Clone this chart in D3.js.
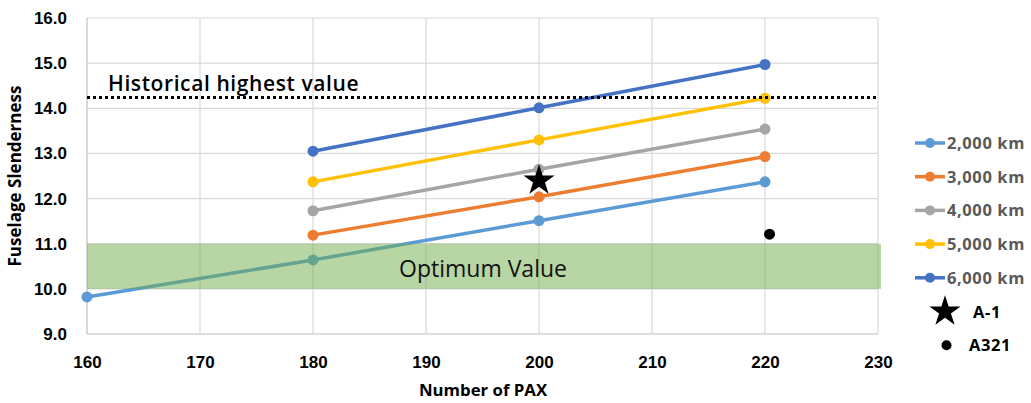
<!DOCTYPE html>
<html>
<head>
<meta charset="utf-8">
<script src="https://cdn.jsdelivr.net/npm/d3@7"></script>
<style>
  html, body { margin: 0; padding: 0; background: #fff; }
  svg { display: block; font-family: "Open Sans", "DejaVu Sans", sans-serif; }
</style>
</head>
<body>
<svg id="chart" width="1031" height="403"></svg>
<script>
// Passenger counts on the x axis
const pax = [160, 180, 200, 220];
const xTicks = [160, 170, 180, 190, 200, 210, 220, 230];
const yTicks = [9, 10, 11, 12, 13, 14, 15, 16];

// Fuselage slenderness per design range
const seriesNames = ["2,000 km", "3,000 km", "4,000 km", "5,000 km", "6,000 km"];
const series2000 = [9.82, 10.64, 11.51, 12.37];
const series3000 = [null, 11.19, 12.04, 12.93];
const series4000 = [null, 11.73, 12.65, 13.54];
const series5000 = [null, 12.37, 13.30, 14.22];
const series6000 = [null, 13.05, 14.01, 14.97];
const seriesColors = ["#5B9BD5", "#ED7D31", "#A5A5A5", "#FFC000", "#4472C4"];

// Reference aircraft
const a1 = { pax: 200, value: 12.40 };
const a321 = { pax: 220.4, value: 11.21 };

// Reference levels
const historicalHighest = 14.24;
const optimumRange = [10, 11];

const svg = d3.select("#chart");
const plotLeft = 87, plotRight = 878, plotTop = 18, plotBottom = 334;

const x = d3.scaleLinear().domain([160, 230]).range([plotLeft, plotRight]);
const y = d3.scaleLinear().domain([9, 16]).range([plotBottom, plotTop]);

// Gridlines
const grid = svg.append("g");
grid.selectAll("line.h").data(yTicks).join("line")
  .attr("x1", plotLeft).attr("x2", plotRight)
  .attr("y1", d => y(d)).attr("y2", d => y(d))
  .attr("stroke", d => d === 9 ? "#bfbfbf" : "#d9d9d9").attr("stroke-width", 1.2);
grid.selectAll("line.v").data(xTicks).join("line")
  .attr("y1", plotTop).attr("y2", plotBottom)
  .attr("x1", d => x(d)).attr("x2", d => x(d))
  .attr("stroke", d => d === 160 ? "#bfbfbf" : "#d9d9d9").attr("stroke-width", 1.2);

// Axes
const yAxis = d3.axisLeft(y).tickValues(yTicks).tickFormat(d3.format(".1f")).tickSize(0).tickPadding(20);
svg.append("g").attr("transform", `translate(${plotLeft},0)`).call(yAxis)
  .call(g => g.select(".domain").remove())
  .selectAll("text").attr("font-size", 17).attr("font-weight", "bold").attr("fill", "#000");

const xAxis = d3.axisBottom(x).tickValues(xTicks).tickFormat(d3.format("d")).tickSize(0).tickPadding(22);
svg.append("g").attr("transform", `translate(0,${plotBottom})`).call(xAxis)
  .call(g => g.select(".domain").remove())
  .selectAll("text").attr("font-size", 17).attr("font-weight", "bold").attr("fill", "#000");

svg.append("text")
  .attr("x", 483).attr("y", 396)
  .attr("text-anchor", "middle").attr("font-size", 16.8).attr("font-weight", "bold")
  .text("Number of PAX");

svg.append("text")
  .attr("transform", `translate(21,${(plotTop + plotBottom) / 2}) rotate(-90)`)
  .attr("text-anchor", "middle").attr("font-size", 17).attr("font-weight", "bold")
  .text("Fuselage Slenderness");

// Series lines with markers
const allSeries = [series2000, series3000, series4000, series5000, series6000];
const line = d3.line()
  .defined(d => d.v !== null)
  .x(d => x(d.p)).y(d => y(d.v));

allSeries.forEach((vals, i) => {
  const pts = pax.map((p, j) => ({ p, v: vals[j] }));
  const g = svg.append("g");
  g.append("path").datum(pts)
    .attr("d", line).attr("fill", "none")
    .attr("stroke", seriesColors[i]).attr("stroke-width", 3.5);
  g.selectAll("circle").data(pts.filter(d => d.v !== null)).join("circle")
    .attr("cx", d => x(d.p)).attr("cy", d => y(d.v)).attr("r", 5.5)
    .attr("fill", seriesColors[i]);
});

// Optimum band (translucent, over the lines)
svg.append("rect")
  .attr("x", x(160)).attr("width", x(230) - x(160) + 3)
  .attr("y", y(optimumRange[1])).attr("height", y(optimumRange[0]) - y(optimumRange[1]))
  .attr("fill", "#70AD47").attr("fill-opacity", 0.5);
svg.append("text")
  .attr("x", 483).attr("y", 277)
  .attr("text-anchor", "middle").attr("font-size", 23).attr("fill", "#111")
  .text("Optimum Value");

// Historical highest dotted line
svg.append("line")
  .attr("x1", x(160)).attr("x2", x(230))
  .attr("y1", y(historicalHighest)).attr("y2", y(historicalHighest))
  .attr("stroke", "#000").attr("stroke-width", 3).attr("stroke-dasharray", "3,3");
svg.append("text")
  .attr("x", 108).attr("y", 91)
  .attr("font-size", 21).attr("fill", "#000")
  .attr("font-weight", 600).attr("letter-spacing", 0.6)
  .text("Historical highest value");

// Reference aircraft markers
const star = d3.symbol().type(d3.symbolStar).size(300);
svg.append("path")
  .attr("d", star())
  .attr("transform", `translate(${x(a1.pax)},${y(a1.value)})`)
  .attr("fill", "#000");
svg.append("circle")
  .attr("cx", x(a321.pax)).attr("cy", y(a321.value)).attr("r", 5.5).attr("fill", "#000");

// Legend
const legend = svg.append("g");
const rowY = i => 143 + i * 33.7;
seriesNames.forEach((name, i) => {
  const g = legend.append("g").attr("transform", `translate(0,${rowY(i)})`);
  g.append("line").attr("x1", 915).attr("x2", 945).attr("stroke", seriesColors[i]).attr("stroke-width", 3.5);
  g.append("circle").attr("cx", 930).attr("r", 5).attr("fill", seriesColors[i]);
  g.append("text").attr("x", 947).attr("y", 6)
    .attr("font-size", 16.5).attr("font-weight", "bold").attr("letter-spacing", 0.6)
    .attr("fill", "#595959").text(name);
});
const starRow = legend.append("g").attr("transform", `translate(0,${rowY(5)})`);
starRow.append("path").attr("d", star()).attr("transform", "translate(945,0)").attr("fill", "#000");
starRow.append("text").attr("x", 973).attr("y", 6)
  .attr("font-size", 16.5).attr("font-weight", "bold").attr("letter-spacing", 0.6)
  .attr("fill", "#000").text("A-1");
const dotRow = legend.append("g").attr("transform", `translate(0,${rowY(6)})`);
dotRow.append("circle").attr("cx", 946.5).attr("r", 5).attr("fill", "#000");
dotRow.append("text").attr("x", 969).attr("y", 6)
  .attr("font-size", 16.5).attr("font-weight", "bold").attr("letter-spacing", 0.6)
  .attr("fill", "#000").text("A321");
</script>
</body>
</html>
